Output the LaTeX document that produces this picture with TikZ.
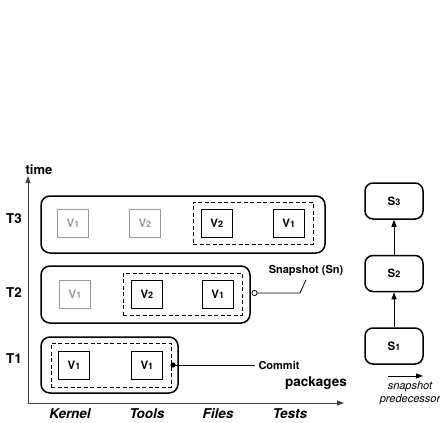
\documentclass[tikz,border=0pt]{standalone}
\usepackage{fontspec}
\setmainfont{TeX Gyre Heros}
\usetikzlibrary{positioning, arrows.meta}

\newcommand{\ver}[2]{#1{\fontsize{9}{10}\selectfont #2}}

\begin{document}
\begin{tikzpicture}[
        x=1pt, y=-1pt,
        node distance=40pt,
        row/.style={draw, line width=1.5pt, rounded corners=9pt, inner sep=0pt},
        grp/.style={draw, dash pattern=on 4pt off 2.5pt, line width=0.8pt, inner sep=0pt},
        vbox/.style={draw, line width=0.9pt, minimum width=31pt, minimum height=28pt, inner sep=0pt, font=\bfseries\fontsize{11.5}{12}\selectfont},
        oldbox/.style={vbox, draw=black!40, text=black!40},
        snapbox/.style={draw, line width=1.5pt, rounded corners=8pt, minimum width=58pt, minimum height=36pt, font=\bfseries\fontsize{11.5}{12}\selectfont},
        tlabel/.style={font=\bfseries\fontsize{13.5}{15}\selectfont},
        pkg/.style={font=\bfseries\itshape\fontsize{13.5}{15}\selectfont},
        note/.style={font=\bfseries\fontsize{11}{12}\selectfont},
        arrow/.style={->, >={Triangle[length=7pt, width=5pt]}, line width=0.8pt}
    ]
    \useasboundingbox (0,0) rectangle (440,423);

    % axes
    \coordinate (origin) at (28,403);
    \coordinate (ytop) at (28,176);
    \coordinate (xend) at (344,403);
    \draw [arrow, black!75] (origin) -- (ytop);
    \draw [arrow, black!75] (origin) -- (xend);
    \node [tlabel, font=\bfseries\fontsize{13}{15}\selectfont] (time) at (39,170) {time};
    \node [tlabel] (packages) at (316,383) {packages};
    \node [tlabel] (t3) at (14,219) {T3};
    \node [tlabel] (t2) at (14,293) {T2};
    \node [tlabel] (t1) at (14,359) {T1};
    \node [pkg] (kernel) at (70,414) {Kernel};
    \node [pkg] (tools) at (147,414) {Tools};
    \node [pkg] (files) at (218,414) {Files};
    \node [pkg] (tests) at (290,414) {Tests};

    % rows
    \node [row, minimum width=284pt, minimum height=57pt] (row3) at (183,224.5) {};
    \node [row, minimum width=209pt, minimum height=57pt] (row2) at (145.5,294.5) {};
    \node [row, minimum width=137pt, minimum height=56pt] (row1) at (109.5,365) {};
    \node [grp, minimum width=120pt, minimum height=42pt] (grp3) at (253,223) {};
    \node [grp, minimum width=119pt, minimum height=42pt] (grp2) at (182.5,294) {};
    \node [grp, minimum width=120pt, minimum height=44pt] (grp1) at (111,365) {};

    % versions
    \node [oldbox] (k3) at (73,223) {\ver{V}{1}};
    \node [oldbox, right=of k3] (o3) {\ver{V}{2}};
    \node [vbox, right=of o3] (f3) {\ver{V}{2}};
    \node [vbox, right=of f3] (e3) {\ver{V}{1}};
    \node [oldbox] (k2) at (75,294) {\ver{V}{1}};
    \node [vbox, right=40pt of k2] (o2) {\ver{V}{2}};
    \node [vbox, right=39pt of o2] (f2) {\ver{V}{1}};
    \node [vbox] (k1) at (74,365) {\ver{V}{1}};
    \node [vbox, right=41pt of k1] (o1) {\ver{V}{1}};

    % callouts
    \coordinate (cdot) at (173,365);
    \node [note, anchor=west] (commit) at (255,365) {Commit};
    \draw [line width=0.8pt] (cdot) -- (commit.west);
    \fill (cdot) circle (2.6pt);
    \coordinate (sdot) at (254.5,293);
    \coordinate (sbend) at (300,293);
    \node [note] (snap) at (306,271) {Snapshot (Sn)};
    \draw [line width=0.8pt] (sdot) -- (sbend) -- (snap.south);
    \draw [line width=0.8pt, fill=white] (sdot) circle (2.6pt);

    % snapshots
    \node [snapbox] (s3) at (394,201) {\ver{S}{3}};
    \node [snapbox, below=35pt of s3] (s2) {\ver{S}{2}};
    \node [snapbox, below=35pt of s2] (s1) {\ver{S}{1}};
    \draw [arrow] (s1) -- (s2);
    \draw [arrow] (s2) -- (s3);

    % legend
    \coordinate (la) at (388,376);
    \coordinate (lb) at (423,376);
    \draw [arrow] (la) -- (lb);
    \node [font=\itshape\fontsize{11}{13}\selectfont, align=center] (legend) at (410,393) {snapshot\\predecessor};
\end{tikzpicture}
\end{document}
